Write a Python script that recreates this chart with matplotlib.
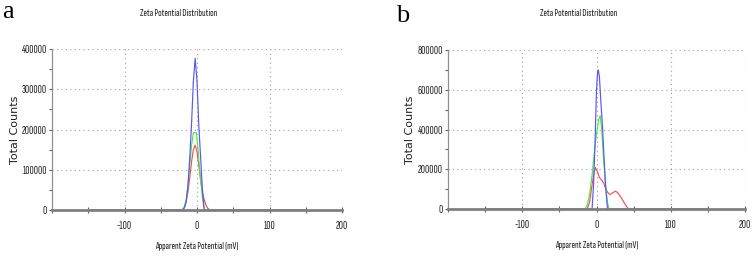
import matplotlib
matplotlib.use("Agg")
import matplotlib.pyplot as plt
from matplotlib.ticker import MultipleLocator

# ---- data ----
# panel a
a_blue_x = [-150, -20, -17.5, -15, -12.5, -10, -7.5, -5, -2.5, 0, 2.5, 5, 7.5, 10, 150]
a_blue_y = [0, 0, 5000, 20000, 60000, 130000, 215000, 320000, 377000, 320000, 210000, 130000, 50000, 0, 0]
a_green_x = [-150, -21, -17.5, -15, -12.5, -10, -7.5, -5, -1, 1, 2.5, 5, 7.5, 10, 150]
a_green_y = [0, 0, 8000, 25000, 60000, 110000, 160000, 192000, 192000, 160000, 125000, 75000, 30000, 0, 0]
a_red_x = [-150, -20, -17.5, -15, -12.5, -10, -7.5, -5, -2.5, 0, 2.5, 5, 7.5, 10, 12.5, 15, 18, 150]
a_red_y = [0, 0, 6000, 20000, 45000, 80000, 120000, 150000, 161000, 145000, 110000, 75000, 45000, 25000, 11000, 4000, 0, 0]

# panel b
b_blue_x = [-150, -6, -4, -2, 0, 1.5, 2.5, 4, 6, 8, 10, 12, 14, 15, 150]
b_blue_y = [0, 0, 120000, 330000, 600000, 690000, 700000, 660000, 530000, 420000, 270000, 130000, 30000, 0, 0]
b_green_x = [-150, -15, -12, -9, -6, -3, 0, 3, 5, 7, 9, 11, 13, 15, 17, 150]
b_green_y = [0, 0, 25000, 80000, 170000, 280000, 380000, 450000, 470000, 400000, 280000, 180000, 90000, 30000, 0, 0]
b_red_x = [-150, -12.5, -9, -6.8, -4, -1.5, 1, 4, 7, 9.9, 12, 14.4, 17, 19, 22, 25.7, 29, 32.4, 36, 39.2, 43, 150]
b_red_y = [0, 0, 40000, 100000, 170000, 208000, 190000, 158000, 145000, 129000, 105000, 87000, 75000, 74000, 82000, 90000, 80000, 62000, 40000, 20000, 0, 0]

panels = [
    ("a", [(a_red_x, a_red_y), (a_green_x, a_green_y), (a_blue_x, a_blue_y)], 400000),
    ("b", [(b_red_x, b_red_y), (b_green_x, b_green_y), (b_blue_x, b_blue_y)], 800000),
]
colors = ["#f25050", "#50e450", "#5858f2"]

narrow = ["Sofia Sans Extra Condensed", "Fira Sans Extra Condensed", "DejaVu Sans"]

fig = plt.figure(figsize=(7.53, 2.59), dpi=100)
# axes boxes in pixels: left, right, top, bottom
boxes = [(52, 342, 49, 210), (448, 745, 50, 209)]
letter_pos = [(2, 18), (396, 21.5)]

for (letter, series, ymax), (l, r, t, b), (lx, ly) in zip(panels, boxes, letter_pos):
    ax = fig.add_axes([l / 753, 1 - b / 259, (r - l) / 753, (b - t) / 259])
    for (x, y), c in zip(series, colors):
        ax.plot(x, y, color=c, lw=0.85)
    ax.set_xlim(-200, 200)
    ax.set_ylim(0, ymax)
    ax.xaxis.set_minor_locator(MultipleLocator(50))
    ax.yaxis.set_major_locator(MultipleLocator(ymax / 4))
    ax.yaxis.set_minor_locator(MultipleLocator(ymax / 8))
    ax.set_xticks([-100, 0, 100, 200])
    ax.set_xticklabels(["-100", "0", "100", "200"])
    ax.grid(True, which="major", color="#a0a0a0", linestyle=(0, (1, 3)), lw=0.8)
    for s in ["top", "right"]:
        ax.spines[s].set_visible(False)
    ax.spines["bottom"].set_color("#808080")
    ax.spines["bottom"].set_linewidth(2)
    ax.spines["left"].set_color("#909090")
    ax.spines["left"].set_linewidth(0.9)
    ax.tick_params(axis="x", which="both", direction="inout", length=4, width=0.8,
                   color="#606060", pad=6, labelsize=8.3)
    ax.tick_params(axis="y", which="both", direction="out", length=2.5, width=0.8,
                   color="#606060", pad=1.2, labelsize=8.3)
    for lab in ax.get_xticklabels() + ax.get_yticklabels():
        lab.set_family(narrow)
        lab.set_color("#202020")
    ax.set_xlabel("Apparent Zeta Potential (mV)", family=narrow, fontsize=7.6, color="#202020")
    ax.xaxis.set_label_coords(0.5, -0.2)
    ax.set_ylabel("Total Counts", family="DejaVu Sans", fontsize=8, color="#202020")
    ax.yaxis.set_label_coords(-0.11, 0.5)
    cx = (l + r) / 2 - 18
    fig.text(cx / 753, 1 - 14 / 259, "Zeta Potential Distribution", family=narrow,
             fontsize=7.6, ha="center", va="center", color="#202020")
    fig.text(lx / 753, 1 - ly / 259, letter, family=["Liberation Serif", "DejaVu Serif"],
             fontsize=19, ha="left", va="baseline")

fig.savefig("out.png", dpi=100)
